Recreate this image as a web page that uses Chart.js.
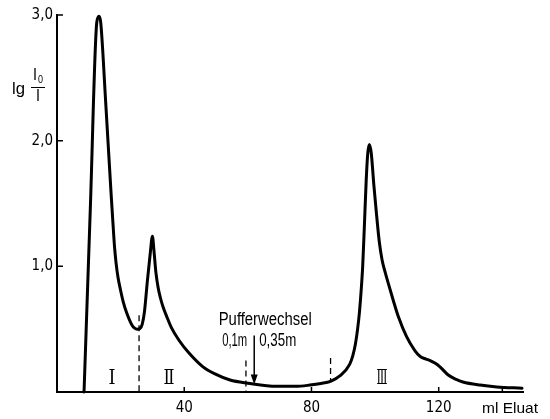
<!DOCTYPE html>
<html lang="de">
<head>
<meta charset="UTF-8">
<title>Elutionsdiagramm</title>
<script src="https://cdn.jsdelivr.net/npm/chart.js@4"></script>
<style>
    body { margin: 0; background: #fff; }
    canvas { display: block; }
</style>
</head>
<body>
<canvas id="elution" width="550" height="419"></canvas>
<script>
// Elutionsvolumen (ml) und Extinktion lg I0/I
const elutionMl = [8.5, 10.5, 12.5, 13.2, 13.75, 15.25, 17.0, 17.6, 18.1, 18.6, 19.2, 19.9, 20.8, 21.9, 23.5,
    24.4, 25.2, 26.1, 26.8, 27.5, 28.4, 29.3, 30.0, 30.5, 31.1, 31.8, 32.5, 33.3, 34.5, 36.0, 38.4, 41.5,
    45.9, 50.0, 54.4, 60, 69, 75, 79.5, 83, 86, 89, 92.0, 93.0, 93.8, 94.5, 95.1, 95.6, 96.1, 96.6, 97.2,
    97.7, 98.2, 98.8, 99.6, 100.5, 101.3, 102.2, 103.2, 104.2, 105.7, 107.3, 109.9, 112.5, 114.3, 116.0,
    117.3, 118.8, 120.4, 123, 125.5, 127.6, 133, 138.3, 146.2];
const extinction = [0, 1.48, 2.94, 2.99, 2.94, 2.33, 1.58, 1.34, 1.15, 1.02, 0.91, 0.82, 0.72, 0.63, 0.535,
    0.508, 0.5, 0.505, 0.54, 0.64, 0.88, 1.1, 1.24, 1.12, 0.95, 0.83, 0.75, 0.68, 0.6, 0.51, 0.41, 0.31,
    0.2, 0.14, 0.095, 0.07, 0.045, 0.045, 0.055, 0.068, 0.085, 0.13, 0.22, 0.29, 0.38, 0.5, 0.64, 0.8, 1.0, 1.3, 1.68,
    1.9, 1.97, 1.9, 1.65, 1.4, 1.2, 1.05, 0.95, 0.86, 0.73, 0.6, 0.44, 0.33, 0.28, 0.262,
    0.25, 0.23, 0.2, 0.135, 0.1, 0.08, 0.055, 0.04, 0.03];

// Achsen
const xLabelTicks = [40, 80, 120];
const xTickMarks = [40, 80, 120, 140];
const yTicks = [1, 2, 3];

// Fraktionsgrenzen (gestrichelt) und Fraktionen
const cutMl = [25.8, 59.4, 86];
const cutTop = [0.61, 0.25, 0.27];
const cutBottom = [0, 0, 0.085];
const fractionNames = ['I', 'Ⅱ', 'Ⅲ'];
const fractionMl = [17.3, 35.2, 102.2];

// Pufferwechsel
const bufferChangeMl = 62;

const condensed = '"Liberation Sans", Arial, sans-serif';

function fitText(ctx, text, x, baseline, size, width, align, family) {
    ctx.save();
    ctx.font = size + 'px ' + (family || condensed);
    const w = ctx.measureText(text).width;
    ctx.translate(x, baseline);
    ctx.scale(width / w, 1);
    ctx.textAlign = align;
    ctx.textBaseline = 'alphabetic';
    ctx.fillText(text, 0, 0);
    ctx.restore();
}

const annotations = {
    id: 'annotations',
    afterDraw(chart) {
        const ctx = chart.ctx;
        const x = chart.scales.x, y = chart.scales.y;
        ctx.save();
        ctx.strokeStyle = '#000';
        ctx.fillStyle = '#000';

        // Teilstriche nach innen
        ctx.lineWidth = 1.5;
        ctx.beginPath();
        xTickMarks.forEach(v => {
            const px = x.getPixelForValue(v);
            ctx.moveTo(px, y.bottom);
            ctx.lineTo(px, y.bottom - 5);
        });
        yTicks.forEach(v => {
            const py = y.getPixelForValue(v);
            ctx.moveTo(x.left, py);
            ctx.lineTo(x.left + 6, py);
        });
        ctx.stroke();

        // Fraktionsgrenzen
        ctx.lineWidth = 1.3;
        ctx.setLineDash([6, 4]);
        cutMl.forEach((v, i) => {
            const px = x.getPixelForValue(v);
            ctx.beginPath();
            ctx.moveTo(px, y.getPixelForValue(cutTop[i]));
            ctx.lineTo(px, y.getPixelForValue(cutBottom[i]));
            ctx.stroke();
        });
        ctx.setLineDash([]);

        // Pfeil
        const ax = x.getPixelForValue(bufferChangeMl);
        const aTop = y.getPixelForValue(0.45);
        const aTip = y.getPixelForValue(0.06);
        ctx.lineWidth = 1.5;
        ctx.beginPath();
        ctx.moveTo(ax, aTop);
        ctx.lineTo(ax, aTip - 6);
        ctx.stroke();
        ctx.beginPath();
        ctx.moveTo(ax, aTip);
        ctx.lineTo(ax - 3.5, aTip - 10);
        ctx.lineTo(ax + 3.5, aTip - 10);
        ctx.closePath();
        ctx.fill();

        // Beschriftungen
        fitText(ctx, 'Pufferwechsel', ax + 11, aTop - 10, 18, 93, 'center');
        fitText(ctx, '0,1m', ax - 32, aTop + 11, 18, 25, 'left');
        fitText(ctx, '0,35m', ax + 5, aTop + 11, 18, 37, 'left');
        fitText(ctx, 'ml Eluat', 482, 413, 15, 56, 'left');

        fractionNames.forEach((t, i) => {
            fitText(ctx, t, x.getPixelForValue(fractionMl[i]), y.bottom - 8, 21, i === 0 ? 7 : 11, 'center',
                '"DejaVu Serif", "DejaVu Sans", serif');
        });

        // lg I0/I
        fitText(ctx, 'lg', 12, 94, 16, 13, 'left');
        fitText(ctx, 'I', 35, 80, 16, 4, 'center');
        fitText(ctx, '0', 40.5, 83, 10, 5, 'center');
        ctx.lineWidth = 1;
        ctx.beginPath();
        ctx.moveTo(31, 87.5);
        ctx.lineTo(45, 87.5);
        ctx.stroke();
        fitText(ctx, 'I', 38, 101, 16, 4, 'center');

        ctx.restore();
    }
};

const tickFont = { family: '"Liberation Sans Narrow", "DejaVu Sans Condensed", "Liberation Sans", sans-serif', size: 15 };

new Chart(document.getElementById('elution'), {
    type: 'line',
    data: {
        datasets: [{
            data: elutionMl.map((v, i) => ({ x: v, y: extinction[i] })),
            borderColor: '#000',
            borderWidth: 3,
            borderJoinStyle: 'round',
            borderCapStyle: 'round',
            pointRadius: 0,
            cubicInterpolationMode: 'monotone',
            fill: false,
            clip: false
        }]
    },
    options: {
        responsive: false,
        devicePixelRatio: 1,
        animation: false,
        layout: { padding: { top: 15, right: 27, left: 0, bottom: 0 } },
        plugins: { legend: { display: false }, tooltip: { enabled: false } },
        scales: {
            x: {
                type: 'linear',
                min: 0,
                max: 146.5,
                grid: { display: false, drawTicks: false },
                border: { display: true, color: '#000', width: 2 },
                afterBuildTicks: s => { s.ticks = xLabelTicks.map(v => ({ value: v })); },
                afterFit: s => { s.height = 27; },
                ticks: { color: '#000', font: tickFont, padding: 7, maxRotation: 0 }
            },
            y: {
                min: 0,
                max: 3,
                grid: { display: false, drawTicks: false },
                border: { display: true, color: '#000', width: 2 },
                afterBuildTicks: s => { s.ticks = yTicks.map(v => ({ value: v })); },
                afterFit: s => { s.width = 57; },
                ticks: {
                    color: '#000',
                    font: tickFont,
                    padding: 4,
                    callback: v => v.toFixed(1).replace('.', ',')
                }
            }
        }
    },
    plugins: [annotations]
});
</script>
</body>
</html>
